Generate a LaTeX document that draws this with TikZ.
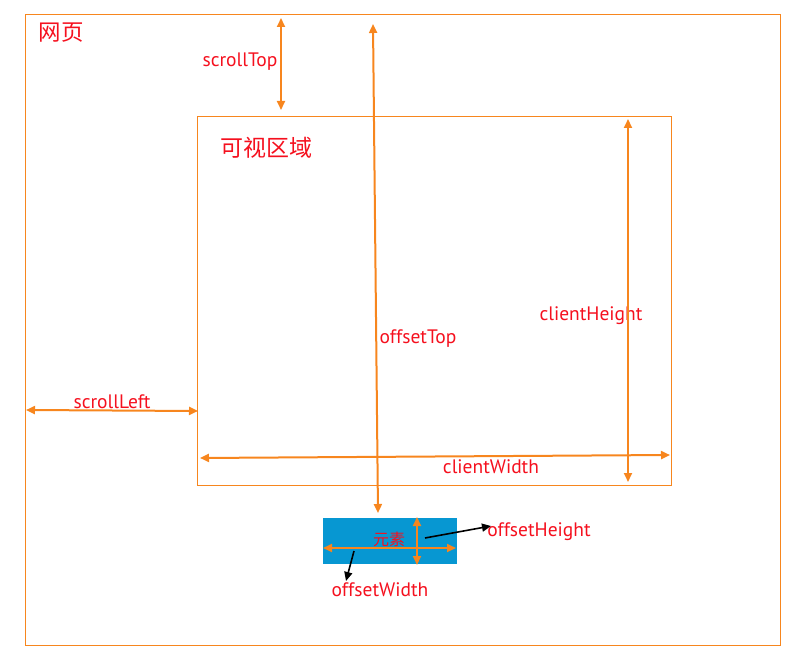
\documentclass[tikz,border=0pt]{standalone}
\usepackage{fontspec}
\setmainfont{PT Sans}
\newfontfamily\cjk{Noto Sans CJK SC}
\usetikzlibrary{arrows.meta, positioning, calc}
\definecolor{lineorange}{HTML}{F7861E}
\definecolor{txtred}{HTML}{F5101E}
\definecolor{elblue}{HTML}{0797D2}

\begin{document}
\begin{tikzpicture}[
    x=1pt, y=-1pt,
    frame/.style={draw=lineorange, line width=1pt},
    dim/.style={draw=lineorange, line width=2pt, {Triangle[length=9pt,width=8pt]}-{Triangle[length=9pt,width=8pt]}},
    ptr/.style={draw=black, line width=1.6pt, -{Triangle[length=9pt,width=8pt]}},
    lbl/.style={text=txtred, font=\fontsize{19.5}{21}\selectfont, inner sep=1pt},
    title/.style={text=txtred, inner sep=0pt}
]
    \useasboundingbox (0,0) rectangle (801,660);
    % frames
    \draw[frame] (25,15) rectangle (780,645);
    \draw[frame] (197,117) rectangle (671,485);
    \draw[white, line width=2pt, fill=elblue] (322,517) rectangle (458,565);
    \node[title, font=\cjk\fontsize{22.5}{24}\selectfont] (page) at (61,33) {网页};
    \node[title, font=\cjk\fontsize{23}{25}\selectfont] (view) at (266,148) {可视区域};
    \node[title, font=\cjk\fontsize{16}{18}\selectfont] (elem) at (389,539) {元素};
    % end points
    \coordinate (stA) at (281,18);   \coordinate (stB) at (281,110);
    \coordinate (otA) at (373,24);   \coordinate (otB) at (378,513);
    \coordinate (chA) at (628,119);  \coordinate (chB) at (628,482);
    \coordinate (cwA) at (200,458);  \coordinate (cwB) at (670,455);
    \coordinate (slA) at (26,410);   \coordinate (slB) at (198,411);
    \coordinate (ewA) at (323,548);  \coordinate (ewB) at (456,548);
    \coordinate (ehA) at (417,517);  \coordinate (ehB) at (417,565);
    \coordinate (ohP) at (425,538);  \coordinate (owP) at (354,551);
    \coordinate (ohT) at (491,526);  \coordinate (owT) at (346,581);
    % labels
    \node[lbl] (scrollTop) at (240,62) {scrollTop};
    \node[lbl] (offsetTop) at (418,339) {offsetTop};
    \node[lbl] (clientHeight) at (591,316) {clientHeight};
    \node[lbl] (clientWidth) at (491,467) {clientWidth};
    \node[lbl] (scrollLeft) at (112,402) {scrollLeft};
    \node[lbl] (offsetHeight) at (539,532) {offsetHeight};
    \node[lbl] (offsetWidth) at (380,590) {offsetWidth};
    % dimension arrows
    \draw[dim] (stA) -- (stB);
    \draw[dim] (otA) -- (otB);
    \draw[dim] (chA) -- (chB);
    \draw[dim] (cwA) -- (cwB);
    \draw[dim] (slA) -- (slB);
    \draw[dim, line width=1.8pt] (ewA) -- (ewB);
    \draw[dim, line width=1.8pt] (ehA) -- (ehB);
    % pointers
    \draw[ptr] (ohP) -- (ohT);
    \draw[ptr] (owP) -- (owT);
\end{tikzpicture}
\end{document}
